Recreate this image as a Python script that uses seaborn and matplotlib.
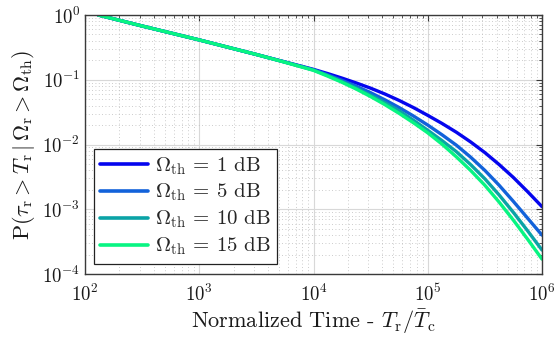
import numpy as np
import pandas as pd
import matplotlib
matplotlib.use("Agg")
import matplotlib.pyplot as plt
import seaborn as sns
from matplotlib.ticker import LogLocator, NullFormatter

# Data (log10 of normalized time, log10 of probability)
log_time = [2.116, 2.5, 3.0, 3.5, 3.75, 4.0, 4.125, 4.25, 4.375, 4.5, 4.625, 4.75, 4.875,
            5.0, 5.125, 5.25, 5.375, 5.5, 5.625, 5.75, 5.875, 6.0]
logp_1dB = [0, -0.17, -0.385, -0.61, -0.725, -0.84, -0.905, -0.975, -1.05, -1.13, -1.22,
            -1.32, -1.43, -1.55, -1.675, -1.81, -1.96, -2.125, -2.31, -2.51, -2.73, -2.96]
logp_5dB = [0, -0.17, -0.385, -0.61, -0.727, -0.845, -0.925, -1.01, -1.10, -1.20, -1.31,
            -1.43, -1.56, -1.70, -1.85, -2.01, -2.195, -2.40, -2.63, -2.88, -3.14, -3.40]
logp_10dB = [0, -0.17, -0.385, -0.61, -0.728, -0.85, -0.935, -1.03, -1.13, -1.24, -1.355,
             -1.48, -1.625, -1.78, -1.94, -2.11, -2.31, -2.53, -2.78, -3.05, -3.335, -3.63]
logp_15dB = [0, -0.17, -0.385, -0.61, -0.73, -0.855, -0.945, -1.04, -1.145, -1.26, -1.385,
             -1.52, -1.665, -1.82, -1.995, -2.19, -2.40, -2.63, -2.89, -3.17, -3.465, -3.77]
series_labels = [r"$\Omega_\mathrm{th}$ = 1 dB", r"$\Omega_\mathrm{th}$ = 5 dB",
                 r"$\Omega_\mathrm{th}$ = 10 dB", r"$\Omega_\mathrm{th}$ = 15 dB"]
colors = ["#0505ee", "#1262da", "#0aa3a6", "#08f582"]

rows = []
for lab, vals in zip(series_labels, [logp_1dB, logp_5dB, logp_10dB, logp_15dB]):
    for lx, lp in zip(log_time, vals):
        rows.append({"T": 10 ** lx, "P": 10 ** lp, "series": lab})
df = pd.DataFrame(rows)

sns.set_style("white")
plt.rcParams["font.family"] = ["cmr10", "DejaVu Serif"]
plt.rcParams["mathtext.fontset"] = "cm"
plt.rcParams["axes.formatter.use_mathtext"] = True

fig = plt.figure(figsize=(5.56, 3.37), dpi=100)
ax = fig.add_axes([85 / 556, 63 / 337, 457 / 556, 259 / 337])

sns.lineplot(data=df, x="T", y="P", hue="series", palette=colors, linewidth=2.4,
             ax=ax, legend=True, sort=True)
ax.set_xscale("log")
ax.set_yscale("log")
ax.set_xlim(1e2, 1e6)
ax.set_ylim(1e-4, 1e0)

ax.xaxis.set_major_locator(LogLocator(base=10, numticks=10))
ax.yaxis.set_major_locator(LogLocator(base=10, numticks=10))
ax.xaxis.set_minor_locator(LogLocator(base=10, subs=np.arange(2, 10), numticks=20))
ax.yaxis.set_minor_locator(LogLocator(base=10, subs=np.arange(2, 10), numticks=20))
ax.xaxis.set_minor_formatter(NullFormatter())
ax.yaxis.set_minor_formatter(NullFormatter())

ax.grid(True, which="major", color="#d8d8d8", linewidth=0.8, linestyle="-")
ax.grid(True, which="minor", color="#bbbbbb", linewidth=0.6, linestyle=(0, (1, 3)))
ax.set_axisbelow(True)

for s in ax.spines.values():
    s.set_color("#3a3a3a")
    s.set_linewidth(1.0)
ax.tick_params(which="both", direction="in", top=True, right=True, colors="#3a3a3a",
               labelcolor="#1a1a1a", labelsize=13.5)
ax.tick_params(which="major", length=4)
ax.tick_params(which="minor", length=2)
ax.tick_params(axis="x", pad=7)

ax.set_xlabel(r"Normalized Time - $T_\mathrm{r}/\bar{T}_\mathrm{c}$", fontsize=16,
              color="#1a1a1a", labelpad=2)
ax.set_ylabel(r"P($\tau_\mathrm{r}>T_\mathrm{r}\,|\,\Omega_\mathrm{r}>\Omega_\mathrm{th}$)",
              fontsize=16, color="#1a1a1a", labelpad=4)

leg = ax.legend(loc="lower left", bbox_to_anchor=(0.02, 0.04), fontsize=15,
                frameon=True, fancybox=False, handlelength=2.3, handletextpad=0.3,
                borderpad=0.3, labelspacing=0.26, borderaxespad=0.0)
leg.get_frame().set_edgecolor("#222222")
leg.get_frame().set_linewidth(0.9)
leg.get_frame().set_alpha(1.0)
for line in leg.get_lines():
    line.set_linewidth(2.6)

fig.savefig("out.png", dpi=100)
